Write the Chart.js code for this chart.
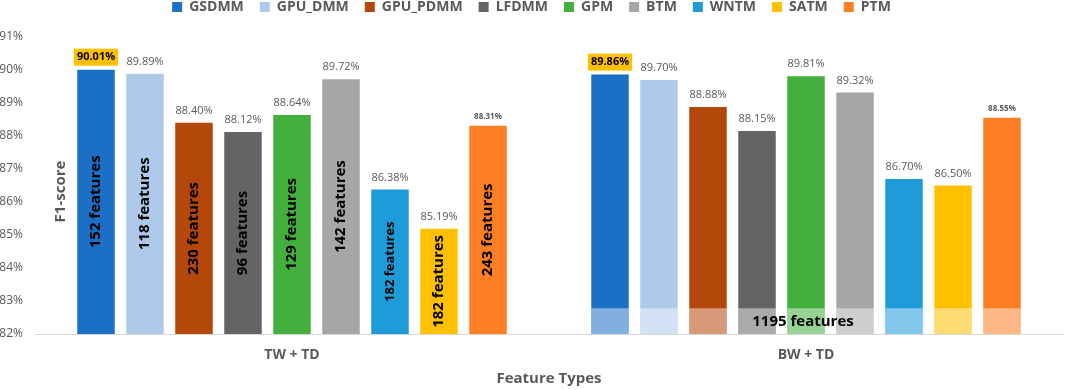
<!DOCTYPE html>
<html>
<head>
<meta charset="utf-8">
<script src="https://cdn.jsdelivr.net/npm/chart.js@4.4.0/dist/chart.umd.min.js"></script>
<style>
  html, body { margin: 0; padding: 0; background: #fff; }
  #wrap { width: 1065px; height: 390px; position: relative; }
</style>
</head>
<body>
<div id="wrap"><canvas id="c" width="1065" height="390"></canvas></div>
<script>
// ---- Data ----
const categories = ['TW + TD', 'BW + TD'];
const models = ['GSDMM', 'GPU_DMM', 'GPU_PDMM', 'LFDMM', 'GPM', 'BTM', 'WNTM', 'SATM', 'PTM'];
const GSDMM    = [90.01, 89.86];
const GPU_DMM  = [89.89, 89.70];
const GPU_PDMM = [88.40, 88.88];
const LFDMM    = [88.12, 88.15];
const GPM      = [88.64, 89.81];
const BTM      = [89.72, 89.32];
const WNTM     = [86.38, 86.70];
const SATM     = [85.19, 86.50];
const PTM      = [88.31, 88.55];
const twFeatureCounts = [152, 118, 230, 96, 129, 142, 182, 182, 243];
const bwFeatureCount = 1195;
const bwFeatureLevel = 82.78;   // top of the shaded feature band in BW + TD
const yTicks = [82, 83, 84, 85, 86, 87, 88, 89, 90, 91];

const seriesValues = [GSDMM, GPU_DMM, GPU_PDMM, LFDMM, GPM, BTM, WNTM, SATM, PTM];
const colors = ['#1B70C6', '#AEC9E9', '#B4470A', '#646464', '#43AF3C', '#A6A6A6', '#1E9CD9', '#FFC000', '#FD7E24'];

const FONT = '"Open Sans", "DejaVu Sans", sans-serif';
const GRAY = '#595959';

const datasets = models.map((m, i) => ({
  label: m,
  data: seriesValues[i],
  backgroundColor: colors[i],
  borderWidth: 0,
  categoryPercentage: 0.858,
  barPercentage: 0.765
}));

const legendFit = {
  id: 'legendFit',
  afterInit(chart) {
    const lg = chart.legend;
    if (!lg) return;
    const f = lg.fit;
    lg.fit = function () { f.call(this); this.height = 53; };
  }
};

const labelPlugin = {
  id: 'labels',
  afterDatasetsDraw(chart) {
    const ctx = chart.ctx;
    const ys = chart.scales.y;
    const xs = chart.scales.x;
    const basePx = ys.getPixelForValue(ys.min);
    const best = categories.map((_, ci) => {
      let bi = 0;
      seriesValues.forEach((s, si) => { if (s[ci] > seriesValues[bi][ci]) bi = si; });
      return bi;
    });
    const bandTop = ys.getPixelForValue(bwFeatureLevel);

    // pass 1: lighter band on BW bars
    chart.data.datasets.forEach((ds, di) => {
      const bar = chart.getDatasetMeta(di).data[1];
      const p = bar.getProps(['x', 'width'], true);
      ctx.save();
      ctx.fillStyle = 'rgba(255,255,255,0.45)';
      ctx.fillRect(p.x - p.width / 2, bandTop, p.width, basePx - bandTop);
      ctx.restore();
    });

    // pass 2: value labels
    chart.data.datasets.forEach((ds, di) => {
      chart.getDatasetMeta(di).data.forEach((bar, ci) => {
        const p = bar.getProps(['x', 'y'], true);
        const txt = ds.data[ci].toFixed(2) + '%';
        ctx.save();
        ctx.textAlign = 'center';
        ctx.textBaseline = 'middle';
        if (best[ci] === di) {
          ctx.font = 'bold 11px ' + FONT;
          const w = ctx.measureText(txt).width + 6;
          ctx.fillStyle = '#FFC000';
          ctx.fillRect(p.x - w / 2, p.y - 21, w, 17);
          ctx.fillStyle = '#000';
          ctx.fillText(txt, p.x, p.y - 12.5);
        } else if (models[di] === 'PTM') {
          ctx.font = 'bold 8px ' + FONT;
          ctx.fillStyle = GRAY;
          ctx.fillText(txt, p.x, p.y - 9);
        } else {
          ctx.font = '11px ' + FONT;
          ctx.fillStyle = GRAY;
          ctx.fillText(txt, p.x, p.y - 12);
        }
        ctx.restore();
      });
    });

    // pass 3: vertical feature counts inside TW bars
    chart.data.datasets.forEach((ds, di) => {
      const bar = chart.getDatasetMeta(di).data[0];
      const p = bar.getProps(['x', 'y'], true);
      const cy = (p.y + basePx) / 2;
      ctx.save();
      ctx.translate(p.x, cy);
      ctx.rotate(-Math.PI / 2);
      ctx.textAlign = 'center';
      ctx.textBaseline = 'middle';
      ctx.fillStyle = '#000000';
      ctx.font = (models[di] === 'WNTM' ? 'bold 13px ' : 'bold 15px ') + FONT;
      ctx.fillText(String(twFeatureCounts[di]) + ' features', 0, 0);
      ctx.restore();
    });

    // 1195 features text
    ctx.save();
    ctx.textAlign = 'center';
    ctx.textBaseline = 'middle';
    ctx.fillStyle = '#000';
    ctx.font = 'bold 15px ' + FONT;
    ctx.fillText(bwFeatureCount + ' features', xs.getPixelForValue(1) - 3, (bandTop + basePx) / 2 + 1);
    ctx.restore();

    // Y-axis title placed inside plot area, as in reference
    const ca = chart.chartArea;
    ctx.save();
    ctx.translate(ca.left + 26, (ca.top + ca.bottom) / 2 + 6);
    ctx.rotate(-Math.PI / 2);
    ctx.textAlign = 'center';
    ctx.textBaseline = 'middle';
    ctx.fillStyle = GRAY;
    ctx.font = 'bold 15px ' + FONT;
    ctx.fillText('F1-score', 0, 0);
    ctx.restore();
  }
};

new Chart(document.getElementById('c'), {
  type: 'bar',
  data: { labels: categories, datasets },
  plugins: [legendFit, labelPlugin],
  options: {
    responsive: false,
    animation: false,
    layout: { padding: { left: 0, right: 2, top: -16, bottom: 0 } },
    plugins: {
      tooltip: { enabled: false },
      legend: {
        position: 'top',
        labels: {
          boxWidth: 10,
          boxHeight: 10,
          padding: 16,
          color: GRAY,
          font: { family: FONT, size: 14, weight: 'bold' }
        }
      }
    },
    scales: {
      x: {
        afterFit(scale) { scale.height = 56; },
        grid: { display: false, drawTicks: false },
        border: { display: true, color: '#D9D9D9', width: 1 },
        ticks: { color: GRAY, padding: 14, font: { family: FONT, size: 14, weight: 'bold', lineHeight: 1 } },
        title: { display: true, text: 'Feature Types', color: GRAY, padding: { top: 9, bottom: 4 }, font: { family: FONT, size: 15, weight: 'bold', lineHeight: 1 } }
      },
      y: {
        min: yTicks[0],
        max: yTicks[yTicks.length - 1],
        afterBuildTicks(scale) { scale.ticks = yTicks.map(v => ({ value: v })); },
        afterFit(scale) { scale.width = 35; },
        grid: { display: false, drawTicks: false },
        border: { display: false },
        ticks: { color: GRAY, padding: 12, font: { family: FONT, size: 12 }, callback: v => v + '%' }
      }
    }
  }
});
</script>
</body>
</html>
